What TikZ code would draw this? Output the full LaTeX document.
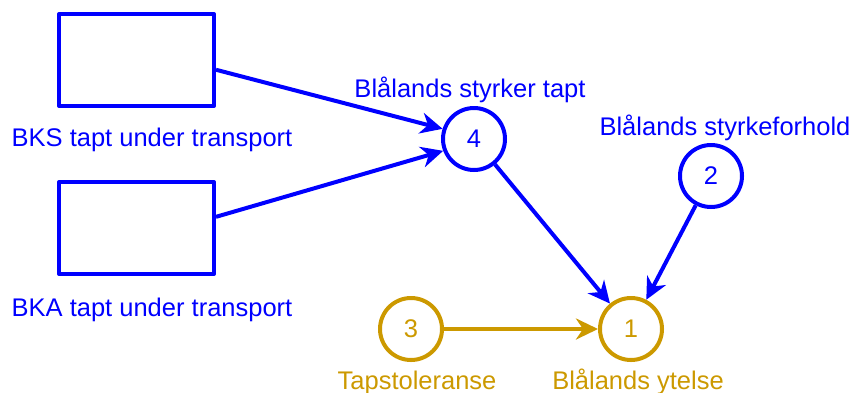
\documentclass[tikz,border=0pt]{standalone}
\usepackage{fontspec}
\setmainfont{Liberation Sans}
\usetikzlibrary{arrows.meta}
\definecolor{tapgold}{RGB}{204,153,0}
\tikzset{
  boks/.style={draw=blue, line width=4pt, line join=round, minimum width=155pt, minimum height=92pt, inner sep=0pt},
  sirkel/.style={circle, draw, line width=4pt, minimum size=62pt, inner sep=0pt},
  pil/.style={line width=4pt, -{Stealth[length=22pt,width=21pt,inset=7pt]}},
  tekst/.style={anchor=base, inner sep=0pt}
}
\begin{document}
\begin{tikzpicture}[x=1pt, y=-1pt, font=\fontsize{25.5}{30}\selectfont]
\useasboundingbox (0,0) rectangle (853,392);
\begin{scope}[blue]
\node[boks] (bks) at (136.5,60) {};
\node[boks] (bka) at (136.5,228) {};
\node[sirkel] (tapt) at (474,139) {4};
\node[sirkel] (forhold) at (711,176) {2};
\node[tekst] at (152,146) {BKS tapt under transport};
\node[tekst] at (152,316) {BKA tapt under transport};
\node[tekst] at (470,97) {Blålands styrker tapt};
\node[tekst] at (725,135) {Blålands styrkeforhold};
\end{scope}
\begin{scope}[tapgold]
\node[sirkel] (toleranse) at (411,329) {3};
\node[sirkel] (ytelse) at (631,329) {1};
\node[tekst] at (417,389) {Tapstoleranse};
\node[tekst] at (638,389) {Blålands ytelse};
\end{scope}
\draw[pil, blue] (bks.-7) -- (tapt.162);
\draw[pil, blue] (bka.8) -- (tapt.201);
\draw[pil, blue] (tapt) -- (ytelse);
\draw[pil, blue] (forhold) -- (ytelse);
\draw[pil, tapgold] (toleranse) -- (ytelse);
\end{tikzpicture}
\end{document}
